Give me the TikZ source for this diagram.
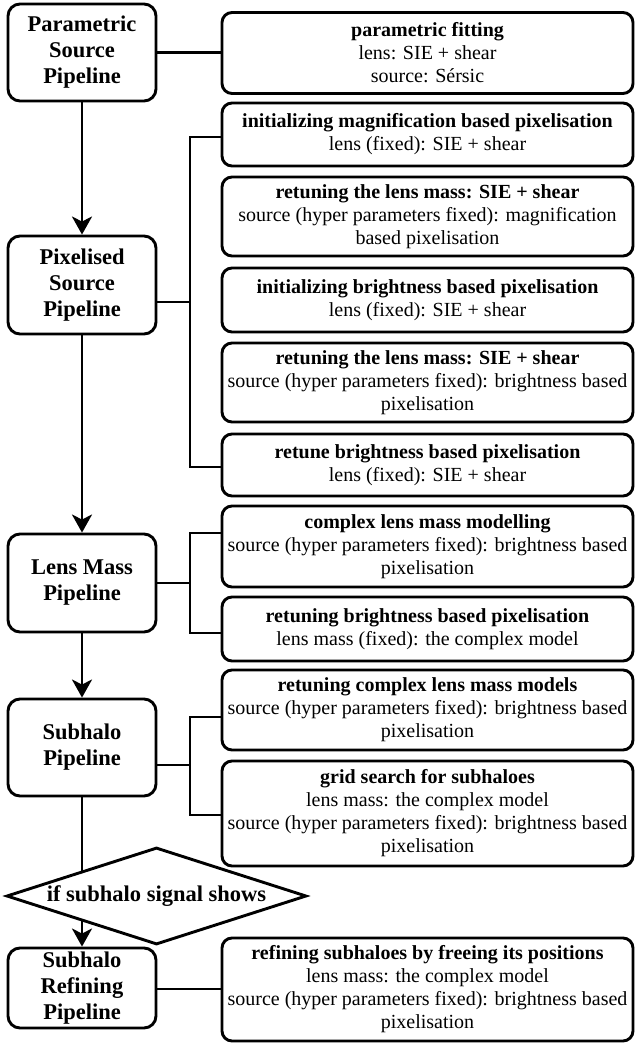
\documentclass[tikz,border=0pt]{standalone}
\usepackage{fontspec}
\setmainfont{Liberation Serif}
\usetikzlibrary{shapes.geometric,arrows.meta,calc}
\begin{document}
\begin{tikzpicture}[x=1pt,y=-1pt,
  pipe/.style={draw, line width=2.9pt, rounded corners=12pt, minimum width=148pt,
    align=center, font=\fontsize{22.5}{26}\selectfont\bfseries, inner sep=0pt, fill=white},
  task/.style={draw, line width=2.9pt, rounded corners=10pt, minimum width=411pt,
    align=center, font=\fontsize{20}{23}\selectfont, inner sep=0pt, fill=white},
  decision/.style={draw, shape=diamond, aspect=3, line width=2.9pt, inner sep=0pt,
    minimum width=300pt, minimum height=97pt, fill=white,
    font=\fontsize{22.5}{26}\selectfont\bfseries},
  conn/.style={line width=2.9pt},
  arr/.style={line width=2.9pt, -{Stealth[length=18pt,width=20pt,inset=5pt]}}]
\useasboundingbox (0,0) rectangle (635,1044);

% pipeline boxes
\node[pipe, minimum height=97pt] (L1) at (82,52.5) {Parametric\\Source\\Pipeline};
\node[pipe, minimum height=98pt] (L2) at (82,285) {Pixelised\\Source\\Pipeline};
\node[pipe, minimum height=98pt] (L3) at (82,583) {Lens Mass\\Pipeline};
\node[pipe, minimum height=97pt] (L4) at (82,747.5) {Subhalo\\Pipeline};
\node[pipe, minimum height=80pt] (L5) at (82,988) {Subhalo\\Refining\\Pipeline};

\node[decision] (D) at (156.5,896) {if subhalo signal shows};

% task boxes
\node[task, minimum height=81pt] (R1) at (427.5,53)
  {\textbf{parametric fitting}\\lens: SIE + shear\\source: Sérsic};
\node[task, minimum height=63pt] (R2) at (427.5,134.5)
  {\textbf{initializing magnification based pixelisation}\\lens (fixed): SIE + shear};
\node[task, minimum height=79pt] (R3) at (427.5,216.5)
  {\textbf{retuning the lens mass: SIE + shear}\\source (hyper parameters fixed): magnification\\based pixelisation};
\node[task, minimum height=64pt] (R4) at (427.5,300)
  {\textbf{initializing brightness based pixelisation}\\lens (fixed): SIE + shear};
\node[task, minimum height=79pt] (R5) at (427.5,382.5)
  {\textbf{retuning the lens mass: SIE + shear}\\source (hyper parameters fixed): brightness based\\pixelisation};
\node[task, minimum height=62pt] (R6) at (427.5,465)
  {\textbf{retune brightness based pixelisation}\\lens (fixed): SIE + shear};
\node[task, minimum height=81pt] (R7) at (427.5,546.5)
  {\textbf{complex lens mass modelling}\\source (hyper parameters fixed): brightness based\\pixelisation};
\node[task, minimum height=64pt] (R8) at (427.5,629)
  {\textbf{retuning brightness based pixelisation}\\lens mass (fixed): the complex model};
\node[task, minimum height=80pt] (R9) at (427.5,710)
  {\textbf{retuning complex lens mass models}\\source (hyper parameters fixed): brightness based\\pixelisation};
\node[task, minimum height=105pt] (R10) at (427.5,813.5)
  {\textbf{grid search for subhaloes}\\lens mass: the complex model\\source (hyper parameters fixed): brightness based\\pixelisation};
\node[task, minimum height=103pt] (R11) at (427.5,989.5)
  {\textbf{refining subhaloes by freeing its positions}\\lens mass: the complex model\\source (hyper parameters fixed): brightness based\\pixelisation};

% main flow
\draw[arr] (L1.south) -- (L2.north);
\draw[arr] (L2.south) -- (L3.north);
\draw[arr] (L3.south) -- (L4.north);
\coordinate (dA) at ($(D.west)!0.503!(D.north)$);
\coordinate (dB) at ($(D.west)!0.503!(D.south)$);
\draw[conn] (L4.south) -- (L4.south |- dA);
\draw[arr] (L5.north |- dB) -- (L5.north);

% side connectors
\draw[conn] (L1.east) -- (L1.east -| R1.west);

\coordinate (b2) at (190,302);
\draw[conn] (L2.east |- b2) -- (b2);
\draw[conn] (R2.west |- 0,137) -- (190,137) -- (190,467) -- (R6.west |- 0,467);

\coordinate (b3) at (190,583);
\draw[conn] (L3.east |- b3) -- (b3);
\draw[conn] (R7.west |- 0,533) -- (190,533) -- (190,633) -- (R8.west |- 0,633);

\coordinate (b4) at (190,765);
\draw[conn] (L4.east |- b4) -- (b4);
\draw[conn] (R9.west |- 0,717) -- (190,717) -- (190,815) -- (R10.west |- 0,815);

\draw[conn] (L5.east |- 0,989) -- (R11.west |- 0,989);
\end{tikzpicture}
\end{document}
